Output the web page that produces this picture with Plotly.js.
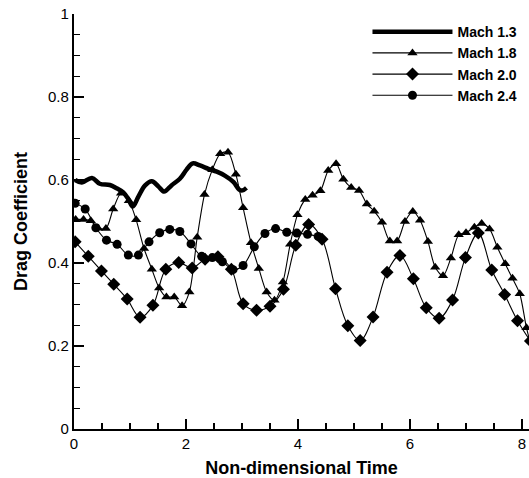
<!DOCTYPE html>
<html>
<head>
<meta charset="utf-8">
<script src="https://cdn.plot.ly/plotly-3.0.1.min.js"></script>
<style>
html,body{margin:0;padding:0;background:#fff;overflow:hidden;}
#chart{width:529px;height:478px;}
</style>
</head>
<body>
<div id="chart"></div>
<script>
// Mach 1.3 (thick line, no markers)
const m13_x = [0.02,0.14,0.32,0.46,0.64,0.76,0.88,0.97,1.05,1.15,1.27,1.39,1.51,1.61,1.74,1.89,2.01,2.12,2.25,2.40,2.55,2.70,2.85,2.95,3.01,3.08];
const m13_y = [0.600,0.594,0.605,0.591,0.588,0.580,0.570,0.554,0.536,0.560,0.587,0.597,0.584,0.572,0.587,0.603,0.625,0.640,0.635,0.627,0.620,0.610,0.595,0.577,0.575,0.581];

// Mach 1.8 (triangles)
const m18_x = [0.03,0.17,0.30,0.43,0.57,0.70,0.84,0.98,1.11,1.25,1.39,1.52,1.65,1.79,1.93,2.06,2.20,2.33,2.47,2.61,2.75,2.89,3.02,3.16,3.30,3.44,3.58,3.73,3.86,3.99,4.13,4.26,4.40,4.54,4.68,4.81,4.95,5.09,5.23,5.36,5.50,5.64,5.77,5.91,6.05,6.18,6.32,6.45,6.59,6.73,6.87,7.00,7.15,7.28,7.42,7.56,7.70,7.83,7.96,8.08,8.22];
const m18_y = [0.505,0.505,0.502,0.484,0.483,0.530,0.568,0.550,0.504,0.435,0.385,0.340,0.318,0.318,0.297,0.330,0.462,0.565,0.625,0.663,0.667,0.614,0.533,0.449,0.387,0.330,0.310,0.354,0.445,0.516,0.553,0.563,0.574,0.623,0.639,0.602,0.582,0.575,0.542,0.525,0.498,0.453,0.453,0.500,0.524,0.503,0.452,0.390,0.369,0.412,0.468,0.473,0.486,0.495,0.482,0.438,0.398,0.363,0.326,0.244,0.170];

// Mach 2.0 (diamonds)
const m20_x = [0.02,0.255,0.49,0.71,0.95,1.18,1.41,1.64,1.87,2.11,2.34,2.57,2.81,3.02,3.26,3.50,3.74,3.96,4.19,4.43,4.67,4.89,5.11,5.34,5.59,5.82,6.06,6.29,6.52,6.76,6.99,7.22,7.46,7.69,7.92,8.15];
const m20_y = [0.451,0.416,0.381,0.349,0.313,0.269,0.298,0.385,0.401,0.388,0.409,0.415,0.385,0.302,0.286,0.296,0.337,0.443,0.493,0.457,0.338,0.249,0.213,0.270,0.378,0.418,0.362,0.292,0.267,0.311,0.413,0.472,0.383,0.324,0.261,0.212];

// Mach 2.4 (circles)
const m24_x = [0.02,0.20,0.39,0.58,0.77,0.97,1.15,1.34,1.53,1.71,1.89,2.09,2.28,2.47,2.65,2.84,3.02,3.22,3.41,3.60,3.80,3.98,4.17,4.36];
const m24_y = [0.544,0.530,0.485,0.455,0.445,0.419,0.419,0.451,0.473,0.481,0.476,0.446,0.416,0.413,0.403,0.384,0.394,0.439,0.471,0.483,0.474,0.472,0.469,0.464];

const seriesNames = ["Mach 1.3","Mach 1.8","Mach 2.0","Mach 2.4"];
const xTickVals = [0,2,4,6,8];
const yTickVals = [0,0.2,0.4,0.6,0.8,1];

const FONT = '"Liberation Sans", Arial, Helvetica, sans-serif';

const traces = [
  {x:m13_x, y:m13_y, name:seriesNames[0], type:'scatter', mode:'lines',
   line:{color:'#000', width:4.5, shape:'spline', smoothing:1}},
  {x:m18_x, y:m18_y, name:seriesNames[1], type:'scatter', mode:'lines+markers',
   line:{color:'#000', width:1.1, shape:'spline', smoothing:0.8},
   marker:{symbol:'triangle-up', size:9, color:'#000'}},
  {x:m20_x, y:m20_y, name:seriesNames[2], type:'scatter', mode:'lines+markers',
   line:{color:'#000', width:1.1, shape:'spline', smoothing:1},
   marker:{symbol:'diamond', size:10, color:'#000'}},
  {x:m24_x, y:m24_y, name:seriesNames[3], type:'scatter', mode:'lines+markers',
   line:{color:'#000', width:1.1, shape:'spline', smoothing:1},
   marker:{symbol:'circle', size:9, color:'#000'}}
];

const layout = {
  width:529, height:478,
  margin:{l:74, r:0, t:14, b:48.5},
  paper_bgcolor:'#fff', plot_bgcolor:'#fff',
  font:{family:FONT, color:'#000', size:15},
  showlegend:true,
  legend:{x:0.645, y:0.995, xanchor:'left', yanchor:'top',
    bgcolor:'rgba(0,0,0,0)', borderwidth:0,
    font:{family:FONT, size:14, color:'#000', weight:'bold'},
    itemwidth:80, tracegroupgap:0},
  xaxis:{range:[0,8.125], tickvals:xTickVals, ticktext:xTickVals.map(String),
    showline:true, linecolor:'#000', linewidth:2.2,
    ticks:'inside', ticklen:10, tickwidth:2, tickcolor:'#000',
    minor:{dtick:0.5, tick0:0, ticks:'inside', ticklen:6, tickwidth:1.2, tickcolor:'#000', showgrid:false},
    showgrid:false, zeroline:false, mirror:false,
    tickfont:{family:FONT, size:15, color:'#000'},
    title:{text:'Non-dimensional Time', font:{family:FONT, size:18, color:'#000', weight:'bold'}, standoff:12}},
  yaxis:{range:[0,1], tickvals:yTickVals, ticktext:['0','0.2','0.4','0.6','0.8','1'],
    showline:true, linecolor:'#000', linewidth:2.2,
    ticks:'inside', ticklen:10, tickwidth:2, tickcolor:'#000',
    minor:{dtick:0.05, tick0:0, ticks:'inside', ticklen:6, tickwidth:1.2, tickcolor:'#000', showgrid:false},
    showgrid:false, zeroline:false, mirror:false,
    tickfont:{family:FONT, size:15, color:'#000'},
    title:{text:'Drag Coefficient', font:{family:FONT, size:18, color:'#000', weight:'bold'}, standoff:16}}
};

Plotly.newPlot('chart', traces, layout, {staticPlot:true, displayModeBar:false});
</script>
</body>
</html>
